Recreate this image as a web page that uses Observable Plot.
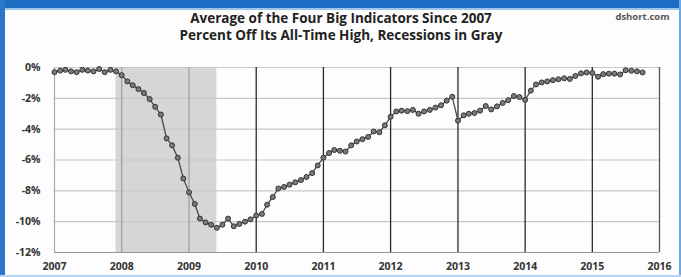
<!DOCTYPE html>
<html>
<head>
<meta charset="utf-8">
<script src="https://cdn.jsdelivr.net/npm/d3@7"></script>
<script src="https://cdn.jsdelivr.net/npm/@observablehq/plot@0.6"></script>
<style>
  html, body { margin: 0; padding: 0; background: #fff; }
  #wrap { position: relative; width: 681px; height: 277px; overflow: hidden; background: #fdfdfd; }
  #wrap svg { position: absolute; left: 0; top: 0; }
  .bTop { position: absolute; left: 0; top: 0; width: 681px; height: 8px; background: #1f6cc4; }
  .bTop2 { position: absolute; left: 0; top: 8px; width: 681px; height: 2px; background: #9cc3ea; }
  .bLeft { position: absolute; left: 0; top: 0; width: 5px; height: 277px; background: #2a78cc; }
  .bRight { position: absolute; right: 0; top: 0; width: 2px; height: 277px; background: #6fa6e0; }
  .bBot { position: absolute; left: 0; bottom: 0; width: 681px; height: 2px; background: #b8d4f0; }
</style>
</head>
<body>
<div id="wrap"></div>
<script>
// Percent off all-time high, monthly, by year
const v2007 = [-0.3, -0.2, -0.15, -0.25, -0.3, -0.15, -0.2, -0.25, -0.1, -0.3, -0.15, -0.25];
const v2008 = [-0.5, -0.9, -1.15, -1.4, -1.65, -2.05, -2.55, -3.05, -4.6, -5.05, -5.85, -7.2];
const v2009 = [-8.1, -8.85, -9.8, -10.05, -10.2, -10.4, -10.2, -9.8, -10.3, -10.15, -10.0, -9.85];
const v2010 = [-9.6, -9.5, -8.9, -8.4, -7.85, -7.75, -7.6, -7.45, -7.3, -7.1, -6.85, -6.35];
const v2011 = [-5.85, -5.55, -5.35, -5.4, -5.45, -5.05, -4.8, -4.65, -4.5, -4.15, -4.2, -3.75];
const v2012 = [-3.2, -2.85, -2.8, -2.83, -2.75, -3.0, -2.85, -2.75, -2.6, -2.45, -2.15, -1.9];
const v2013 = [-3.45, -3.1, -3.0, -2.95, -2.8, -2.5, -2.72, -2.52, -2.3, -2.12, -1.85, -1.92];
const v2014 = [-2.1, -1.5, -1.1, -0.97, -0.9, -0.82, -0.76, -0.7, -0.74, -0.55, -0.38, -0.32];
const v2015 = [-0.35, -0.6, -0.43, -0.4, -0.4, -0.45, -0.18, -0.21, -0.25, -0.32];
const seriesByYear = [[2007, v2007], [2008, v2008], [2009, v2009], [2010, v2010], [2011, v2011],
                      [2012, v2012], [2013, v2013], [2014, v2014], [2015, v2015]];

const recessionStart = [2007, 11];  // Dec 2007
const recessionEnd = [2009, 5];     // Jun 2009
const yTicks = [0, -2, -4, -6, -8, -10, -12];
const xYears = [2007, 2008, 2009, 2010, 2011, 2012, 2013, 2014, 2015, 2016];

const titleLines = ["Average of the Four Big Indicators Since 2007",
                    "Percent Off Its All-Time High, Recessions in Gray"];
const sourceText = "dshort.com";

const data = seriesByYear.flatMap(([yr, vals]) =>
  vals.map((v, m) => ({date: new Date(yr, m, 1), value: v})));
const recession = [{x1: new Date(recessionStart[0], recessionStart[1], 1),
                    x2: new Date(recessionEnd[0], recessionEnd[1], 1)}];
const yearDates = xYears.map(y => new Date(y, 0, 1));
const innerYears = yearDates.slice(1, -1);

const W = 681, H = 277;
const fontFam = "'Open Sans', Lato, sans-serif";

const chart = Plot.plot({
  width: W, height: H,
  marginLeft: 54, marginRight: 22, marginTop: 67, marginBottom: 25,
  style: {background: "transparent", fontFamily: fontFam},
  x: {type: "time", domain: [yearDates[0], yearDates[yearDates.length - 1]], axis: null},
  y: {domain: [-12, 0], axis: null},
  marks: [
    // horizontal gridlines
    Plot.ruleY(yTicks, {stroke: "#c8c8c8", strokeWidth: 1.2}),
    // year lines
    Plot.ruleX(innerYears, {stroke: "#2a2a2a", strokeWidth: 1.3}),
    Plot.ruleX([yearDates[yearDates.length - 1]], {stroke: "#555", strokeWidth: 1.3}),
    Plot.ruleX([yearDates[0]], {stroke: "#aaa", strokeWidth: 1.2}),
    Plot.ruleY([-12], {stroke: "#999", strokeWidth: 1.2}),
    // recession shading
    Plot.rectX(recession, {x1: "x1", x2: "x2", y1: -12, y2: 0, fill: "#c8c8c8", fillOpacity: 0.75}),
    // series
    Plot.line(data, {x: "date", y: "value", stroke: "#4a4a4a", strokeWidth: 1.3}),
    Plot.dot(data, {x: "date", y: "value", r: 2.5, fill: "#7a7a7a", stroke: "#333", strokeWidth: 1}),
    // y tick labels
    Plot.text(yTicks, {x: yearDates[0], y: d => d, text: d => `${d}%`, dx: -14, textAnchor: "end",
      fontSize: 10.5, fontWeight: "bold", fill: "#333"}),
    // x tick labels
    Plot.text(yearDates, {x: d => d, y: -12, text: (d, i) => String(xYears[i]), dy: 14,
      fontSize: 10.5, fontWeight: "bold", fill: "#333"}),
    // two-line title as one text
    Plot.text([titleLines.join("\n")], {frameAnchor: "top", dx: -16, dy: -56, text: d => d,
      lineAnchor: "top", lineHeight: 1.25,
      fontSize: 13.5, fontWeight: "bold", fill: "#222"}),
    Plot.text([sourceText], {frameAnchor: "top-right", dx: 10, dy: -54, text: d => d,
      fontSize: 9.5, fontWeight: "bold", fill: "#555"})
  ]
});

const wrap = document.getElementById("wrap");
wrap.appendChild(chart);
for (const c of ["bTop", "bTop2", "bLeft", "bRight", "bBot"]) {
  const d = document.createElement("div"); d.className = c; wrap.appendChild(d);
}
</script>
</body>
</html>
